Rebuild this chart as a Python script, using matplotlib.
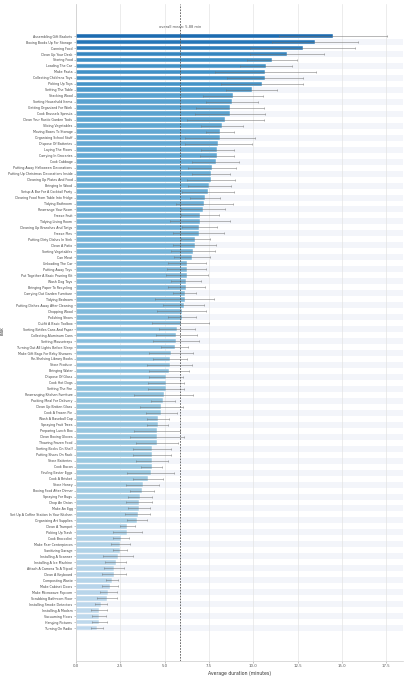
import matplotlib
matplotlib.use("Agg")
import matplotlib.pyplot as plt
import numpy as np

tasks = [
    "Assembling Gift Baskets", "Boxing Books Up For Storage", "Canning Food", "Clean Up Your Desk",
    "Storing Food", "Loading The Car", "Make Pasta", "Collecting Childrens Toys", "Picking Up Toys",
    "Setting The Table", "Stacking Wood", "Sorting Household Items", "Getting Organized For Work",
    "Cook Brussels Sprouts", "Clean Your Rustic Garden Tools", "Slicing Vegetables",
    "Moving Boxes To Storage", "Organizing School Stuff", "Dispose Of Batteries", "Laying The Floors",
    "Carrying In Groceries", "Cook Cabbage", "Putting Away Halloween Decorations",
    "Putting Up Christmas Decorations Inside", "Cleaning Up Plates And Food", "Bringing In Wood",
    "Setup A Bar For A Cocktail Party", "Clearing Food From Table Into Fridge", "Tidying Bathroom",
    "Rearrange Your Room", "Freeze Fruit", "Tidying Living Room", "Cleaning Up Branches And Twigs",
    "Freeze Pies", "Putting Dirty Dishes In Sink", "Clean A Patio", "Sorting Vegetables", "Can Meat",
    "Unloading The Car", "Putting Away Toys", "Put Together A Basic Pruning Kit", "Wash Dog Toys",
    "Bringing Paper To Recycling", "Carrying Out Garden Furniture", "Tidying Bedroom",
    "Putting Dishes Away After Cleaning", "Chopping Wood", "Polishing Shoes", "Outfit A Basic Toolbox",
    "Sorting Bottles Cans And Paper", "Collecting Aluminum Cans", "Setting Mousetraps",
    "Turning Out All Lights Before Sleep", "Make Gift Bags For Baby Showers", "Re-Shelving Library Books",
    "Store Produce", "Bringing Water", "Dispose Of Glass", "Cook Hot Dogs", "Setting The Fire",
    "Rearranging Kitchen Furniture", "Packing Meal For Delivery", "Clean Up Broken Glass",
    "Cook A Frozen Pie", "Wash A Baseball Cap", "Spraying Fruit Trees", "Preparing Lunch Box",
    "Clean Boxing Gloves", "Thawing Frozen Food", "Sorting Books On Shelf", "Putting Shoes On Rack",
    "Store Batteries", "Cook Bacon", "Finding Easter Eggs", "Cook A Brisket", "Store Honey",
    "Boxing Food After Dinner", "Spraying For Bugs", "Chop An Onion", "Make An Egg",
    "Set Up A Coffee Station In Your Kitchen", "Organizing Art Supplies", "Clean A Trumpet",
    "Picking Up Trash", "Cook Broccolini", "Make Pear Centerpieces", "Sanitizing Garage",
    "Installing A Scanner", "Installing A Ice Machine", "Attach A Camera To A Tripod",
    "Clean A Keyboard", "Composting Waste", "Make Cabinet Doors", "Make Microwave Popcorn",
    "Scrubbing Bathroom Floor", "Installing Smoke Detectors", "Installing A Modem",
    "Vacuuming Floors", "Hanging Pictures", "Turning On Radio",
]

avg_minutes = [
    14.51, 13.48, 12.78, 11.90, 11.05, 10.70, 10.68, 10.68, 10.51, 9.91,
    8.87, 8.78, 8.70, 8.69, 8.42, 8.25, 8.12, 8.12, 8.03, 7.97,
    7.95, 7.88, 7.67, 7.61, 7.61, 7.52, 7.46, 7.28, 7.24, 7.14,
    6.99, 6.99, 6.96, 6.92, 6.73, 6.70, 6.60, 6.56, 6.28, 6.26,
    6.26, 6.22, 6.22, 6.13, 6.13, 6.07, 5.97, 5.98, 5.90, 5.70,
    5.66, 5.64, 5.57, 5.36, 5.30, 5.30, 5.25, 5.08, 5.08, 5.08,
    4.96, 4.91, 4.81, 4.81, 4.64, 4.61, 4.57, 4.57, 4.57, 4.29,
    4.29, 4.29, 4.27, 4.23, 4.06, 3.76, 3.72, 3.61, 3.55, 3.54,
    3.48, 3.44, 2.91, 2.91, 2.56, 2.50, 2.48, 2.37, 2.24, 2.14,
    2.14, 2.03, 1.92, 1.82, 1.75, 1.43, 1.31, 1.31, 1.31, 1.18,
]

err_minutes = [
    3.05, 2.40, 2.94, 2.10, 1.40, 1.46, 2.86, 2.14, 2.30, 1.45,
    1.70, 1.47, 1.92, 2.00, 2.16, 1.20, 0.80, 1.98, 1.88, 0.92,
    0.96, 1.33, 1.34, 1.08, 1.34, 1.20, 1.45, 0.86, 1.60, 1.24,
    1.09, 1.70, 0.98, 1.43, 0.83, 1.22, 1.26, 1.00, 1.07, 1.10,
    1.17, 0.83, 1.04, 0.66, 1.65, 1.15, 1.37, 0.80, 1.60, 1.00,
    1.15, 1.30, 0.77, 1.23, 0.95, 1.27, 1.12, 0.98, 1.03, 1.00,
    1.67, 0.66, 1.22, 0.87, 0.62, 0.61, 1.28, 1.50, 1.18, 1.05,
    1.05, 0.88, 0.61, 1.33, 0.86, 0.93, 0.68, 0.67, 0.72, 0.62,
    0.71, 0.58, 0.45, 0.80, 0.45, 0.54, 0.41, 0.86, 0.59, 0.57,
    0.67, 0.32, 0.43, 0.47, 0.54, 0.35, 0.44, 0.40, 0.42, 0.35,
]

overall_mean = 5.88

plt.rcParams['font.family'] = ['DejaVu Sans']

fig = plt.figure(figsize=(4.08, 6.8), dpi=100)
ax = fig.add_axes([0.186, 0.028, 0.802, 0.966])

n = len(tasks)
y = np.arange(n)
vals = np.array(avg_minutes)
norm = (vals - vals.min()) / (vals.max() - vals.min())
colors = plt.cm.Blues(0.27 + 0.5 * norm)

# alternating row stripes
for i in range(1, n, 2):
    ax.axhspan(i - 0.5, i + 0.5, color='#f3f5fa', zorder=0, lw=0)

ax.barh(y, vals, height=0.8, color=colors, edgecolor='white', linewidth=0.3, zorder=2)
ax.errorbar(vals, y, xerr=err_minutes, fmt='none', ecolor='#6f6f6f', alpha=0.7,
            elinewidth=0.5, capsize=0.8, capthick=0.5, zorder=3)

ax.axvline(overall_mean, color='#555555', linestyle=(0, (2, 1.5)), linewidth=0.6, zorder=4)
ax.text(overall_mean, -1.5, f"overall mean: {overall_mean:.2f} min", ha='center', va='center',
        fontsize=2.6, color='#555555', zorder=5)

ax.set_yticks(y)
ax.set_yticklabels(tasks, fontsize=2.3, color='#444444')
ax.set_ylim(n - 1 + 5.5, -5.35)
ax.set_xlim(0, 18.45)
ax.set_xticks([0, 2.5, 5, 7.5, 10, 12.5, 15, 17.5])
ax.set_xticklabels(["0.0", "2.5", "5.0", "7.5", "10.0", "12.5", "15.0", "17.5"], fontsize=2.8, color='#555555')
ax.tick_params(axis='both', length=1.5, width=0.4, color='#999999', pad=1)
ax.set_xlabel("Average duration (minutes)", fontsize=3.3, color='#333333', labelpad=1.5)
ax.set_ylabel("Task", fontsize=3.3, color='#333333', labelpad=2)

ax.grid(axis='x', color='#e4e4e4', linewidth=0.5, zorder=1)
ax.set_axisbelow(True)
for s in ['top', 'right']:
    ax.spines[s].set_visible(False)
for s in ['left', 'bottom']:
    ax.spines[s].set_color('#cccccc')
    ax.spines[s].set_linewidth(0.5)

fig.savefig("out.png", dpi=100)
